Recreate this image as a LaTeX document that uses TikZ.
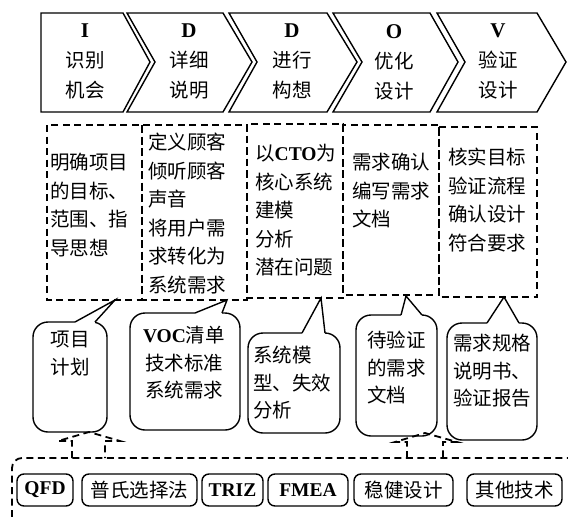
\documentclass[tikz,border=0pt]{standalone}
\usepackage{fontspec}
\setmainfont{Noto Sans CJK SC}
\newfontfamily\latf{Liberation Serif}
\newcommand\latb[1]{{\latf\bfseries #1}}
\tikzset{
  chev/.style={draw, line width=1.4pt, line join=miter},
  dbox/.style={draw, line width=1.8pt, dash pattern=on 7pt off 4.5pt},
  callout/.style={draw, line width=1.4pt, rounded corners=15pt},
  pointer/.style={draw, line width=1.4pt, line join=miter},
  eraser/.style={draw=white, line width=2.6pt},
  blockarrow/.style={draw, line width=1.8pt, dash pattern=on 7pt off 4.5pt, line join=miter},
  tool/.style={draw, line width=1.4pt, rounded corners=7pt, inner sep=0pt, minimum height=32pt, font=\fontsize{19.5}{24}\selectfont},
  chevtxt/.style={font=\fontsize{19.5}{30}\selectfont, align=center, inner sep=0pt, anchor=north},
  boxtxt/.style={font=\fontsize{19.5}{28.5}\selectfont, align=left, inner sep=0pt, anchor=north west},
  calltxt/.style={font=\fontsize{19.5}{27.5}\selectfont, inner sep=0pt},
}
\begin{document}
\begin{tikzpicture}[x=1pt,y=-1pt]
\useasboundingbox (0,0) rectangle (568,517);
\clip (0,0) rectangle (568,517);

% chevrons
\draw[chev] (41,13) -- (123,13) -- (150,62) -- (123,112) -- (41,112) -- cycle;
\draw[chev] (127,13) -- (223,13) -- (252,62) -- (223,112) -- (127,112) -- (155,62) -- cycle;
\draw[chev] (229,13) -- (327,13) -- (357,62) -- (327,112) -- (229,112) -- (257,62) -- cycle;
\draw[chev] (333,13) -- (430,13) -- (458,62) -- (430,112) -- (333,112) -- (362,62) -- cycle;
\draw[chev] (437,13) -- (537,13) -- (566,62) -- (537,112) -- (437,112) -- (465,62) -- cycle;

\node[chevtxt] (c1) at (85,24) {{\fontsize{21}{30}\selectfont\latb{I}}\\识别\\机会};
\node[chevtxt] (c2) at (189,24) {{\fontsize{21}{30}\selectfont\latb{D}}\\详细\\说明};
\node[chevtxt] (c3) at (292,24) {{\fontsize{21}{30}\selectfont\latb{D}}\\进行\\构想};
\node[chevtxt] (c4) at (394,24) {{\fontsize{21}{30}\selectfont\latb{O}}\\优化\\设计};
\node[chevtxt] (c5) at (498,24) {{\fontsize{21}{30}\selectfont\latb{V}}\\验证\\设计};

% dashed description boxes
\draw[dbox] (47,125) rectangle (142,300);
\draw[dbox] (142,125) rectangle (247,300);
\draw[dbox] (247,124) rectangle (343,298);
\draw[dbox] (343,125) rectangle (439,295);
\draw[dbox] (439,127) rectangle (537,297);

\node[boxtxt] (b1) at (50,153) {明确项目\\的目标、\\范围、指\\导思想};
\node[boxtxt] (b2) at (148,133) {定义顾客\\倾听顾客\\声音\\将用户需\\求转化为\\系统需求};
\node[boxtxt] (b3) at (255,144) {以\latb{CTO}为\\核心系统\\建模\\分析\\潜在问题};
\node[boxtxt] (b4) at (352,153) {需求确认\\编写需求\\文档};
\node[boxtxt] (b5) at (448,148) {核实目标\\验证流程\\确认设计\\符合要求};

% callouts
\draw[callout] (33,322) rectangle (107,432);
\draw[eraser] (75,322) -- (95,322);
\draw[pointer] (75,322) -- (115,300) -- (95,322);

\draw[callout] (130,313) rectangle (240,430);
\draw[eraser] (195,313) -- (222,313);
\draw[pointer] (195,313) -- (227,300) -- (222,313);

\draw[callout] (248,333) rectangle (340,433);
\draw[eraser] (302,333) -- (325,333);
\draw[pointer] (302,333) -- (321,298) -- (325,333);

\draw[callout] (356,315) rectangle (437,436);
\draw[eraser] (401,315) -- (422,315);
\draw[pointer] (401,315) -- (406,296) -- (422,315);

\draw[callout] (447,323) rectangle (537,440);
\draw[eraser] (487,323) -- (519,323);
\draw[pointer] (487,323) -- (504,297) -- (519,323);

\node[calltxt, align=center, anchor=north] (k1) at (70,331) {项目\\计划};
\node[calltxt, align=center, anchor=north] (k2) at (184,326) {\latb{VOC}清单\\技术标准\\系统需求};
\node[calltxt, align=left, anchor=north west] (k3) at (253,346) {系统模\\型、失效\\分析};
\node[calltxt, align=left, anchor=north west] (k4) at (367,331) {待验证\\的需求\\文档};
\node[calltxt, align=left, anchor=north west] (k5) at (453,334) {需求规格\\说明书、\\验证报告};

% tools frame
\draw[dbox, rounded corners=10pt] (12,540) -- (12,458) -- (600,458);

% dashed block arrows
\coordinate (a1tip) at (89,432);
\coordinate (a2tip) at (425,433);
\draw[blockarrow] (72,458) -- (72,441) -- (58,441) -- (a1tip) -- (120,441) -- (105,441) -- (105,458);
\draw[blockarrow] (407,458) -- (407,442) -- (395,442) -- (a2tip) -- (457,442) -- (443,442) -- (443,458);

% tools
\node[tool, minimum width=56pt] (t1) at (45,490) {\latb{QFD}};
\node[tool, minimum width=115pt] (t2) at (139.5,490) {普氏选择法};
\node[tool, minimum width=61pt] (t3) at (232.5,490) {\latb{TRIZ}};
\node[tool, minimum width=80pt] (t4) at (308,490) {\latb{FMEA}};
\node[tool, minimum width=99pt] (t5) at (403.5,490) {稳健设计};
\node[tool, minimum width=95pt] (t6) at (514.5,490) {其他技术};
\end{tikzpicture}
\end{document}
